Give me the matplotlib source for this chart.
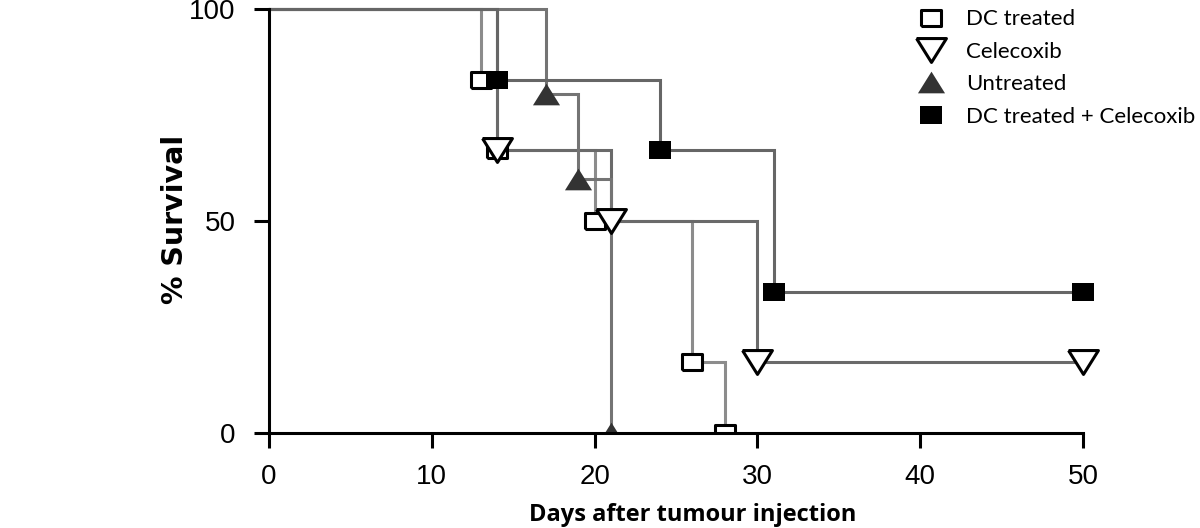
import matplotlib
matplotlib.use("Agg")
import matplotlib.pyplot as plt
from matplotlib.lines import Line2D

# Kaplan-Meier data (days, % survival)
days_dc = [0, 13, 14, 20, 26, 28]
surv_dc = [100, 83.3, 66.7, 50, 16.7, 0]

days_cel = [0, 14, 21, 30, 50]
surv_cel = [100, 66.7, 50, 16.7, 16.7]

days_un = [0, 17, 19, 21]
surv_un = [100, 80, 60, 0]

days_dcc = [0, 14, 24, 31, 50]
surv_dcc = [100, 83.3, 66.7, 33.3, 33.3]

labels = ['DC treated', 'Celecoxib', 'Untreated', 'DC treated + Celecoxib']
xticks = [0, 10, 20, 30, 40, 50]
yticks = [0, 50, 100]

# custom marker shapes (slightly wide, like the original)
rect = [(-1, -0.8), (1, -0.8), (1, 0.8), (-1, 0.8), (-1, -0.8)]
tri_down = [(-1, 0.8), (1, 0.8), (0, -0.8), (-1, 0.8)]
tri_up = [(-1, -0.8), (1, -0.8), (0, 0.8), (-1, -0.8)]

label_font = ['Open Sans', 'DejaVu Sans']
legend_font = ['Lato', 'DejaVu Sans']
tick_font = ['Liberation Sans', 'DejaVu Sans']

fig = plt.figure(figsize=(12, 5.28), dpi=100)
ax = fig.add_axes([0.2242, 0.180, 0.7055, 0.8105])

lw = 2.2
styles = [
    (days_dc, surv_dc, '#8c8c8c', dict(marker=rect, ms=15, mfc='white', mec='black', mew=2.2)),
    (days_cel, surv_cel, '#6a6a6a', dict(marker=tri_down, ms=21.5, mfc='white', mec='black', mew=2.2)),
    (days_un, surv_un, '#747474', dict(marker=tri_up, ms=19.5, mfc='#333333', mec='#333333', mew=0)),
    (days_dcc, surv_dcc, '#666666', dict(marker=rect, ms=16.5, mfc='black', mec='black', mew=0)),
]

for d, s, c, mk in styles:
    ax.step(d, s, where='post', color=c, lw=lw, zorder=2, solid_joinstyle='miter')
for d, s, c, mk in styles:
    ax.plot(d[1:], s[1:], ls='none', zorder=3, **mk)

ax.set_xlim(0, 52)
ax.set_ylim(0, 101)
ax.spines['top'].set_visible(False)
ax.spines['right'].set_visible(False)
ax.spines['bottom'].set_bounds(0, 50)
ax.spines['left'].set_bounds(0, 100)
for sp in ('bottom', 'left'):
    ax.spines[sp].set_linewidth(2.2)
    ax.spines[sp].set_zorder(4)

ax.set_xticks(xticks)
ax.set_yticks(yticks)
ax.tick_params(length=11, width=2.2, labelsize=20)
ax.tick_params(axis='y', pad=13)
ax.tick_params(axis='x', pad=11)
for t in ax.get_xticklabels() + ax.get_yticklabels():
    t.set_family(tick_font)

ax.set_xlabel('Days after tumour injection', fontsize=17, fontweight='bold',
              family=label_font, labelpad=10)
ax.set_ylabel('% Survival', fontsize=20.5, fontweight='bold',
              family=['DejaVu Sans'], labelpad=0)

handles = [Line2D([], [], ls='none', **mk) for d, s, c, mk in styles]
leg = fig.legend(handles, labels, loc='upper left', bbox_to_anchor=(0.754, 0.995),
                 frameon=False, prop={'family': legend_font, 'size': 16},
                 handletextpad=0.7, labelspacing=0.56, borderpad=0.0,
                 handlelength=1.75, borderaxespad=0.3)

fig.savefig('out.png', dpi=100, facecolor='white')
